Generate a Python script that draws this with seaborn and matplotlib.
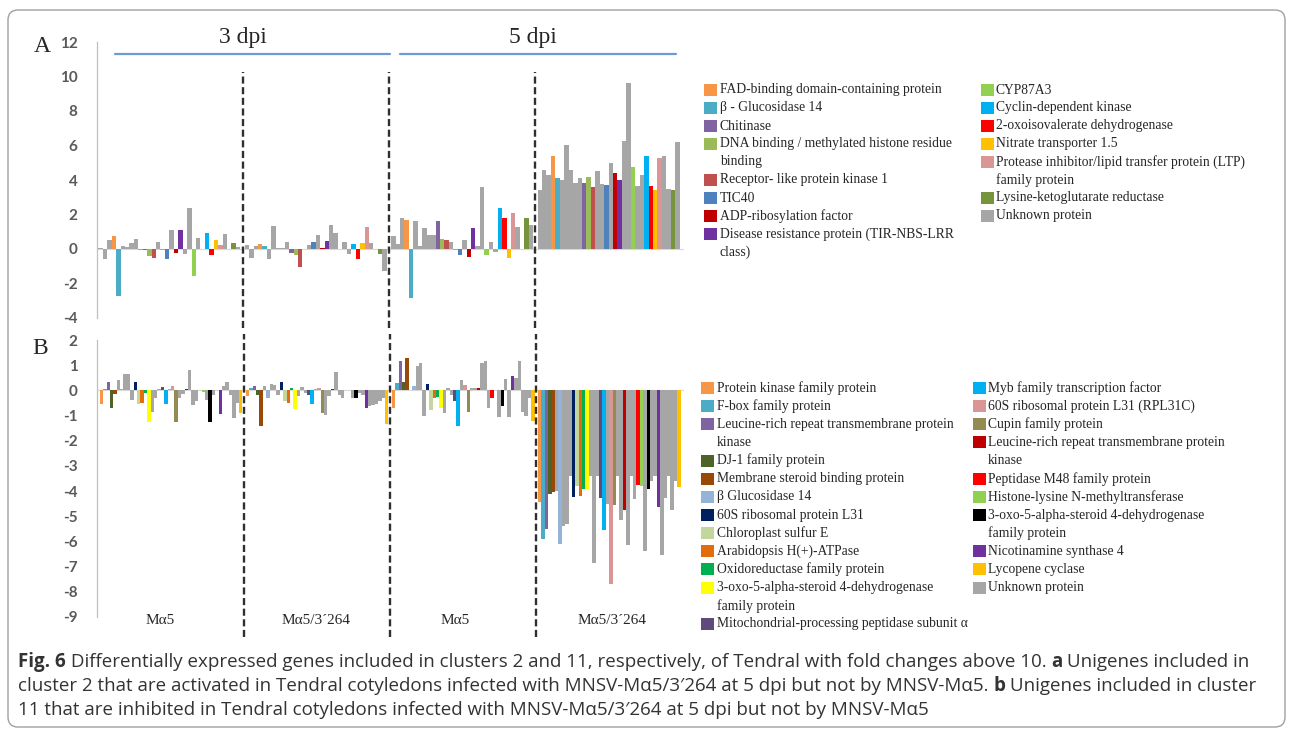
import matplotlib
matplotlib.use("Agg")
import matplotlib.pyplot as plt
import seaborn as sns
import pandas as pd
from matplotlib.lines import Line2D
from matplotlib.patches import Rectangle, FancyBboxPatch
from matplotlib.transforms import IdentityTransform

# ---------------- data ----------------
group_names = ["Mα5 3dpi", "Mα5/3´264 3dpi", "Mα5 5dpi", "Mα5/3´264 5dpi"]
group_labels_b = ["Mα5", "Mα5/3´264", "Mα5", "Mα5/3´264"]
dpi_labels = ["3 dpi", "5 dpi"]

a_legend_labels = [
    "FAD-binding domain-containing protein",
    "β - Glucosidase 14",
    "Chitinase",
    "DNA binding / methylated histone residue\nbinding",
    "Receptor- like protein kinase 1",
    "TIC40",
    "ADP-ribosylation factor",
    "Disease resistance protein (TIR-NBS-LRR\nclass)",
    "CYP87A3",
    "Cyclin-dependent kinase",
    "2-oxoisovalerate dehydrogenase",
    "Nitrate transporter 1.5",
    "Protease inhibitor/lipid transfer protein (LTP)\nfamily protein",
    "Lysine-ketoglutarate reductase",
    "Unknown protein",
]
a_legend_colors = ["#F79646", "#4BACC6", "#8064A2", "#9BBB59", "#C0504D", "#4F81BD",
                   "#C00000", "#7030A0", "#92D050", "#00B0F0", "#FF0000", "#FFC000",
                   "#D99694", "#77933C", "#A6A6A6"]
a_bar_gene = [14, 14, 14, 0, 1, 14, 14, 14, 14, 14, 2, 3, 4, 14, 14, 5,
              14, 6, 7, 14, 14, 8, 14, 14, 9, 10, 11, 12, 14, 14, 13, 14]
a_mal5_3dpi = [0.05, -0.58, 0.54, 0.75, -2.7, 0.15, 0.1, 0.35, 0.6, -0.05, -0.05, -0.38,
               -0.55, 0.4, -0.05, -0.6, 1.1, -0.22, 1.1, -0.3, 2.35, -1.55, 0.65, 0.0,
               0.9, -0.35, 0.5, 0.25, 0.85, 0.0, 0.35, 0.1]
a_mut_3dpi = [0.25, -0.55, 0.2, 0.3, 0.15, -0.6, 1.35, 0.05, 0.05, 0.4, -0.22, -0.35,
              -1.05, 0.0, 0.25, 0.4, 0.8, 0.05, 0.45, 1.4, 0.9, 0.02, 0.4, -0.3,
              0.3, -0.6, 0.35, 1.25, 0.35, 0.0, -0.3, -1.3]
a_mal5_5dpi = [0.77, 0.3, 1.77, 1.7, -2.85, 1.65, 0.15, 1.2, 0.8, 0.83, 1.65, 0.6,
               0.5, 0.38, -0.05, -0.33, 0.5, -0.47, 1.2, 0.15, 3.6, -0.35, 0.38, -0.15,
               2.4, 1.8, -0.55, 2.1, 1.3, 0.0, 1.8, 1.4]
a_mut_5dpi = [3.4, 4.6, 4.3, 5.4, 4.1, 4.0, 6.05, 4.6, 3.8, 4.1, 3.8, 4.2,
              3.6, 4.55, 3.75, 3.7, 5.0, 4.4, 4.0, 6.25, 9.6, 4.75, 3.65, 4.3,
              5.4, 3.65, 3.4, 5.25, 5.4, 3.5, 3.4, 6.2]

b_legend_labels = [
    "Protein kinase family protein",
    "F-box family protein",
    "Leucine-rich repeat transmembrane protein\nkinase",
    "DJ-1 family protein",
    "Membrane steroid binding protein",
    "β Glucosidase 14",
    "60S ribosomal protein L31",
    "Chloroplast sulfur E",
    "Arabidopsis H(+)-ATPase",
    "Oxidoreductase family protein",
    "3-oxo-5-alpha-steroid 4-dehydrogenase\nfamily protein",
    "Mitochondrial-processing peptidase subunit α",
    "Myb family transcription factor",
    "60S ribosomal protein L31 (RPL31C)",
    "Cupin family protein",
    "Leucine-rich repeat transmembrane protein\nkinase ",
    "Peptidase M48 family protein",
    "Histone-lysine N-methyltransferase",
    "3-oxo-5-alpha-steroid 4-dehydrogenase\nfamily protein ",
    "Nicotinamine synthase 4",
    "Lycopene cyclase",
    "Unknown protein",
]
b_legend_colors = ["#F79646", "#4BACC6", "#8064A2", "#4F6228", "#984807", "#95B3D7",
                   "#002060", "#C3D69B", "#E46C0A", "#00B050", "#FFFF00", "#604A7B",
                   "#00B0F0", "#D99694", "#948A54", "#C00000", "#FF0000", "#92D050",
                   "#000000", "#7030A0", "#FFC000", "#A6A6A6"]
b_bar_gene = [0, 1, 2, 3, 4, 21, 5, 21, 21, 21, 6, 7, 8, 9, 10, 21, 21, 21, 11, 12, 21,
              13, 14, 21, 21, 15, 21, 21, 21, 16, 17, 21, 18, 21, 21, 19, 21, 21, 21, 21, 21, 20]
b_mal5_3dpi = [-0.53, 0.05, 0.32, -0.7, -0.13, 0.43, 0.05, 0.63, 0.63, -0.37, 0.32, -0.53,
               -0.5, -0.1, -1.24, -0.84, -0.3, 0.05, 0.13, -0.53, 0.05, 0.19, -1.24, -0.3,
               -0.15, 0.05, 0.8, -0.6, -0.44, 0.0, -0.05, -0.37, -1.24, -0.2, 0.0, -0.93,
               0.16, 0.32, -0.2, -1.1, -0.5, -0.88]
b_mut_3dpi = [-0.24, 0.09, 0.19, -0.2, -1.41, 0.19, -0.3, 0.25, 0.2, -0.17, 0.32, -0.44,
              -0.5, 0.09, -0.75, -0.24, 0.13, -0.1, -0.17, -0.53, 0.05, 0.09, -0.9, -0.97,
              -0.24, 0.05, 0.72, -0.2, -0.3, 0.0, 0.0, -0.3, -0.3, -0.1, -0.2, -0.7,
              -0.64, -0.57, -0.53, -0.44, -0.3, -1.33]
b_mal5_5dpi = [-0.7, 0.29, 1.16, 0.32, 1.29, 0.0, 0.16, 0.96, 1.07, -1.0, 0.27, -0.77,
               -0.3, -0.25, -0.7, -0.9, 0.1, -0.2, -0.44, -1.4, 0.43, 0.23, -0.84, 0.1,
               0.1, 0.1, 1.1, 1.16, -0.7, -0.3, 0.0, -1.04, -0.64, 0.45, -1.04, 0.56,
               0.5, 1.16, -0.84, -1.0, -0.3, -1.2]
b_mut_5dpi = [-4.43, -5.9, -5.5, -4.1, -4.05, -4.0, -6.1, -5.4, -5.3, -3.4, -4.24, -3.8,
              -4.2, -3.93, -3.9, -3.4, -6.87, -3.4, -4.27, -5.56, -4.5, -7.67, -4.56, -3.4,
              -5.13, -4.77, -6.13, -3.4, -4.33, -3.76, -3.8, -6.37, -3.93, -3.6, -3.4, -4.64,
              -6.53, -4.27, -3.4, -4.77, -3.6, -3.84]

caption_lines = [
    [("Fig. 6", True), (" Differentially expressed genes included in clusters 2 and 11, respectively, of Tendral with fold changes above 10. ", False), ("a", True), (" Unigenes included in", False)],
    [("cluster 2 that are activated in Tendral cotyledons infected with MNSV-Mα5/3′264 at 5 dpi but not by MNSV-Mα5. ", False), ("b", True), (" Unigenes included in cluster", False)],
    [("11 that are inhibited in Tendral cotyledons infected with MNSV-Mα5/3′264 at 5 dpi but not by MNSV-Mα5", False)],
]

# ---------------- figure ----------------
sns.set_style("white")
plt.rcParams["font.family"] = ["Liberation Serif", "DejaVu Serif"]
W, H = 1293, 732
fig = plt.figure(figsize=(W / 100, H / 100), dpi=100)
fig.patch.set_facecolor("white")


def fx(px):
    return px / W


def fy(py):
    return 1 - py / H


def build(groups, bar_gene, labels):
    n = len(bar_gene)
    step = n + 1
    rows = []
    for g, vals in enumerate(groups):
        for i, v in enumerate(vals):
            rows.append({"x": g * step + i, "value": v, "gene": labels[bar_gene[i]]})
    return pd.DataFrame(rows), step


tick_font = ["Lato", "DejaVu Sans"]
axis_col = "#BFBFBF"


def style_axis(ax, ymin, ymax, ticks, step, xlim, dash_top, dash_bot):
    ax.set_ylim(ymin, ymax)
    ax.set_xlim(*xlim)
    ax.set_yticks(ticks)
    ax.set_yticklabels([f"{t:g}" for t in ticks], family=tick_font, fontsize=11,
                       fontweight="bold", color="#5A5A5A")
    ax.set_xticks([])
    ax.set_xlabel("")
    ax.set_ylabel("")
    for s in ["top", "right", "bottom"]:
        ax.spines[s].set_visible(False)
    ax.spines["left"].set_color(axis_col)
    ax.spines["left"].set_linewidth(0.9)
    ax.tick_params(axis="y", direction="out", length=4, width=0.9, color=axis_col, pad=10)
    ax.axhline(0, color="#D9D9D9", lw=0.8, zorder=0)
    ax.patch.set_alpha(0)
    for g in range(1, 4):
        ax.axvline(g * step - 1, ymin=dash_bot, ymax=dash_top, color="#2F2F2F", lw=1.7,
                   dashes=(3, 1.5), clip_on=False)


# Panel A
dfA, stepA = build([a_mal5_3dpi, a_mut_3dpi, a_mal5_5dpi, a_mut_5dpi], a_bar_gene, a_legend_labels)
axA = fig.add_axes([fx(97), fy(318), fx(684 - 97), (318 - 42) / H])
sns.barplot(data=dfA, x="x", y="value", hue="gene", hue_order=a_legend_labels,
            palette=dict(zip(a_legend_labels, a_legend_colors)), native_scale=True,
            dodge=False, width=1.0, saturation=1, errorbar=None, legend=False,
            linewidth=0, ax=axA)
style_axis(axA, -4, 12, list(range(-4, 13, 2)), stepA, (-0.8, 4 * stepA - 0.5),
           (318 - 72) / 276, -0.035)

# Panel B
dfB, stepB = build([b_mal5_3dpi, b_mut_3dpi, b_mal5_5dpi, b_mut_5dpi], b_bar_gene, b_legend_labels)
axB = fig.add_axes([fx(97), fy(617), fx(684 - 97), (617 - 340) / H])
sns.barplot(data=dfB, x="x", y="value", hue="gene", hue_order=b_legend_labels,
            palette=dict(zip(b_legend_labels, b_legend_colors)), native_scale=True,
            dodge=False, width=1.0, saturation=1, errorbar=None, legend=False,
            linewidth=0, ax=axB)
style_axis(axB, -9, 2, list(range(-9, 3)), stepB, (-1.3, 4 * stepB - 0.5),
           (617 - 334) / 277, -(637 - 617) / 277)

# panel letters, dpi headers
fig.text(fx(42), fy(47), "A", fontsize=17, ha="center", va="center")
fig.text(fx(40), fy(348), "B", fontsize=17, ha="center", va="center")
for lab, cx in zip(dpi_labels, [243, 533]):
    fig.text(fx(cx), fy(37), lab, fontsize=17, ha="center", va="center")
for x0, x1 in [(115, 390), (400, 676)]:
    fig.add_artist(Line2D([fx(x0), fx(x1)], [fy(54), fy(54)], color="#6C9BD2", lw=1.6,
                          transform=fig.transFigure))
for lab, cx in zip(group_labels_b, [160, 316, 455, 612]):
    fig.text(fx(cx), fy(621), lab, fontsize=11, ha="center", va="center")


# legends
def draw_legend(labels, colors, ncol1, sw_x, tx_x, sw2_x, tx2_x, y0, dy, fs):
    cols = [(range(0, ncol1), sw_x, tx_x), (range(ncol1, len(labels)), sw2_x, tx2_x)]
    for idxs, sx, tx in cols:
        y = y0
        for i in idxs:
            lines = labels[i].strip().split("\n")
            fig.add_artist(Rectangle((fx(sx), fy(y + 6)), fx(13), 12 / H,
                                     facecolor=colors[i], edgecolor="none",
                                     transform=fig.transFigure))
            for ln in lines:
                fig.text(fx(tx), fy(y), ln, fontsize=fs, ha="left", va="center")
                y += dy


draw_legend(a_legend_labels, a_legend_colors, 8, 704, 720, 981, 996, 90, 18, 9.8)
draw_legend(b_legend_labels, b_legend_colors, 12, 701, 717, 973, 988, 388, 18.15, 9.8)

# caption
cap_font = ["Open Sans", "DejaVu Sans"]
r = fig.canvas.get_renderer()
probe = fig.text(0, 0, "".join(t for t, _ in caption_lines[0]), fontsize=12, family=cap_font)
wprobe = probe.get_window_extent(renderer=r).width
probe.remove()
cap_fs = 12 * (1226 / wprobe)
for li, runs in enumerate(caption_lines):
    x = 18
    y = 662 + li * 24
    for txt, bold in runs:
        t = fig.text(fx(x), fy(y), txt, fontsize=cap_fs, family=cap_font,
                     fontweight="bold" if bold else "normal", color="#333333",
                     ha="left", va="center")
        x += t.get_window_extent(renderer=r).width

# outer rounded border
fig.add_artist(FancyBboxPatch((8, 5), 1277, 717, boxstyle="round,pad=0,rounding_size=10",
                              facecolor="none", edgecolor="#A0A0A0", lw=1,
                              transform=IdentityTransform()))

fig.savefig("out.png", dpi=100)
